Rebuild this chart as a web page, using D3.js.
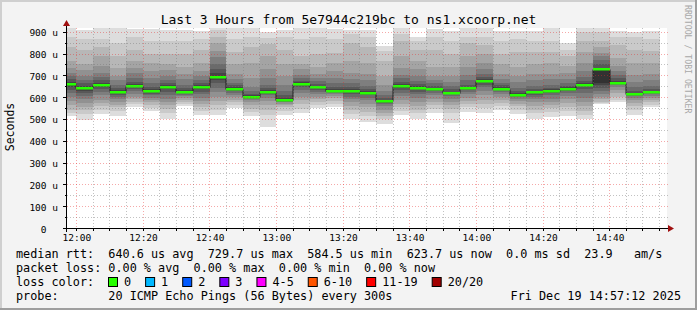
<!DOCTYPE html>
<html><head><meta charset="utf-8">
<script src="https://cdn.jsdelivr.net/npm/d3@7"></script>
<style>
html,body{margin:0;padding:0;background:#f3f3f3;}
svg{display:block;}
text{font-family:"DejaVu Sans Mono",monospace;}
</style></head><body>
<svg id="c" width="697" height="310"></svg>
<script>
const title = "Last 3 Hours from 5e7944c219bc to ns1.xcoorp.net";
const timeStart = "11:57:12", timeEnd = "14:57:12";
const barStarts = ["11:55","12:00","12:05","12:10","12:15","12:20","12:25","12:30","12:35","12:40","12:45","12:50",
  "12:55","13:00","13:05","13:10","13:15","13:20","13:25","13:30","13:35","13:40","13:45","13:50",
  "13:55","14:00","14:05","14:10","14:15","14:20","14:25","14:30","14:35","14:40","14:45","14:50"];
const medians = [662,643,657,627,653,631,648,627,648,695,640,604,627,590,663,648,631,631,622,584.5,
  653,643,639,622,642,676,640,614,624,631,640,659,729.7,668,618,623.7];
const lossPct = [0,0,0,0,0,0,0,0,0,0,0,0,0,0,0,0,0,0,0,0,0,0,0,0,0,0,0,0,0,0,0,0,0,0,0,0];
const pings = [
 [515,530,545,565,585,605,620,635,648,658,666,672,685,700,715,735,770,830,880,940],
 [497,525,542,558,575,592,607,620,632,640,646,655,665,680,700,725,754,820,870,910],
 [524,545,560,575,590,610,625,638,648,654,660,668,680,695,715,745,790,830,870,935],
 [515,540,555,565,580,595,605,613,620,625,630,637,645,660,680,700,735,790,850,920],
 [555,570,580,592,605,618,630,640,647,651,655,662,672,690,712,735,770,820,880,915],
 [538,552,565,578,590,600,610,618,625,629,633,640,650,665,690,720,760,800,860,915],
 [500,530,548,565,580,595,610,625,638,645,651,658,668,682,700,725,754,800,860,910],
 [560,570,580,590,600,608,614,619,623,626,629,635,645,660,685,710,740,800,860,910],
 [521,540,555,570,585,600,615,628,640,646,650,656,665,680,700,720,760,820,870,905],
 [520,545,565,585,605,625,645,665,680,690,700,712,730,755,785,815,850,880,910,940],
 [551,565,578,590,602,613,622,630,636,639,642,648,656,668,685,710,754,810,870,918],
 [515,535,550,565,578,588,595,599,602,603,606,610,618,630,650,690,760,830,880,935],
 [466,520,545,565,585,600,610,617,622,626,629,635,645,660,690,730,790,845,875,902],
 [521,540,555,565,572,578,582,586,588,589,592,598,610,630,660,700,754,820,880,910],
 [530,550,570,590,605,620,635,648,657,661,665,670,678,690,705,730,754,790,870,935],
 [551,568,580,592,605,618,628,636,643,646,650,655,663,675,690,710,740,800,880,925],
 [558,572,585,597,608,616,622,627,629,630,633,638,648,665,690,720,760,805,870,915],
 [500,525,545,562,578,592,605,615,625,629,633,640,650,665,685,715,770,850,890,910],
 [489,515,535,555,572,588,600,610,617,620,624,630,640,655,680,710,760,830,880,912],
 [478,500,515,530,545,560,570,577,581,583,586,590,598,610,630,660,700,770,815,838],
 [520,540,555,572,590,608,622,635,646,651,655,662,672,688,705,735,790,860,890,920],
 [500,528,545,560,580,598,615,628,638,641,645,652,662,678,700,730,770,820,860,880],
 [530,550,565,580,595,610,622,630,636,638,641,646,654,665,680,700,740,820,880,915],
 [484,530,548,565,580,595,607,615,620,621,623,628,638,652,672,700,740,800,860,905],
 [535,555,570,585,600,615,628,636,640,641,643,650,660,680,705,740,790,850,880,918],
 [530,552,570,590,610,630,648,660,670,674,678,685,695,710,730,760,800,840,880,930],
 [542,560,575,590,605,618,628,634,638,639,642,648,656,668,685,710,755,800,860,905],
 [524,545,560,572,585,595,603,608,612,613,615,620,630,645,670,700,740,810,870,905],
 [500,528,545,562,578,592,604,614,620,623,626,632,640,655,680,710,754,810,860,905],
 [512,535,552,568,582,596,610,620,627,630,633,638,645,660,685,710,760,810,860,925],
 [515,540,558,575,592,608,620,630,637,639,642,648,655,665,685,712,745,790,820,851],
 [500,520,540,560,580,600,620,638,652,657,661,668,678,695,720,760,810,860,900,940],
 [570,576,582,592,605,618,630,645,660,666,728,738,752,772,790,805,830,860,900,940],
 [579,590,605,620,635,648,657,663,666,667,669,675,688,705,720,745,780,840,880,905],
 [520,545,560,575,588,600,608,613,616,617,619,623,632,648,670,705,760,820,880,900],
 [555,568,580,590,600,608,615,619,622,623,625,630,640,655,680,710,760,815,870,905]
];
const xTickLabels = ["12:00","12:20","12:40","13:00","13:20","13:40","14:00","14:20","14:40"];
const yTickValues = [0,100,200,300,400,500,600,700,800,900];
const yTickLabels = ["0  ","100 u","200 u","300 u","400 u","500 u","600 u","700 u","800 u","900 u"];
const yMinorValues = [50,150,250,350,450,550,650,750,850];
const smokeShades = ["#dddddd","#cacaca","#b7b7b7","#a4a4a4","#919191","#7e7e7e","#6b6b6b","#585858","#454545","#323232"];
const lossLabels = ["0","1","2","3","4-5","6-10","11-19","20/20"];
const lossColors = ["#26ff00","#00b8ff","#0059ff","#7e00ff","#ff00ff","#ff5500","#ff0000","#a10000"];
const rttStats = ["640.6 us avg","729.7 us max","584.5 us min","623.7 us now","0.0 ms sd","23.9   am/s"];
const lossStats = ["0.00 % avg","0.00 % max","0.00 % min","0.00 % now"];
const probeText = "20 ICMP Echo Pings (56 Bytes) every 300s";
const stampText = "Fri Dec 19 14:57:12 2025";

const svg = d3.select("#c");
const W = 697, H = 310;
const parseT = d3.timeParse("%Y-%m-%d %H:%M:%S");
const T = s => parseT("2025-12-19 " + (s.length === 5 ? s + ":00" : s));
const L = 67, R = 667, TOP = 28.5, BOT = 228.5;

const x = d3.scaleTime().domain([T(timeStart), T(timeEnd)]).range([L, R]);
const y = d3.scaleLinear().domain([0, 917]).range([BOT, TOP]);
const px = v => Math.floor(v) + 0.5;

// background & frame
svg.append("rect").attr("width", W).attr("height", H).attr("fill", "#f3f3f3");
svg.append("rect").attr("x", 0).attr("y", 0).attr("width", W).attr("height", 2).attr("fill", "#cfcfcf");
svg.append("rect").attr("x", 0).attr("y", 0).attr("width", 2).attr("height", H).attr("fill", "#cfcfcf");
svg.append("rect").attr("x", 0).attr("y", H - 2).attr("width", W).attr("height", 2).attr("fill", "#9e9e9e");
svg.append("rect").attr("x", W - 2).attr("y", 0).attr("width", 2).attr("height", H).attr("fill", "#9e9e9e");

// canvas
svg.append("rect").attr("x", L).attr("y", 28).attr("width", R - L).attr("height", 201).attr("fill", "#ffffff");
svg.append("clipPath").attr("id", "cp").append("rect").attr("x", L).attr("y", 28).attr("width", R - L).attr("height", 200.5);
const g = svg.append("g").attr("clip-path", "url(#cp)");

// smoke
const step = 5 * 60 * 1000;
barStarts.forEach((s, i) => {
  const t0 = T(s), t1 = new Date(+t0 + step);
  const x0 = Math.round(x(t0)), x1 = Math.round(x(t1));
  const p = pings[i];
  for (let k = 0; k < 10; k++) {
    const lo = p[k], hi = p[19 - k];
    const y0 = Math.round(y(hi)), y1 = Math.round(y(lo));
    g.append("rect").attr("x", x0).attr("y", y0).attr("width", x1 - x0).attr("height", Math.max(0, y1 - y0))
      .attr("fill", smokeShades[k]);
  }
});

// median step line
const pts = barStarts.map((s, i) => [x(T(s)), y(medians[i])]);
pts.push([x(new Date(+T(barStarts[barStarts.length - 1]) + step)), y(medians[medians.length - 1])]);
g.append("path").attr("d", d3.line().curve(d3.curveStepAfter)(pts.map(d => [Math.round(d[0]), Math.round(d[1]) + 0.5])))
  .attr("fill", "none").attr("stroke", "#202020").attr("stroke-width", 1);
barStarts.forEach((s, i) => {
  const t0 = T(s), t1 = new Date(+t0 + step);
  const x0 = Math.round(x(t0)), x1 = Math.round(x(t1));
  const ym = Math.round(y(medians[i]));
  g.append("rect").attr("x", x0).attr("y", ym - 1).attr("width", x1 - x0).attr("height", 2.5)
    .attr("fill", lossColors[lossPct[i]]);
});

// grid (drawn over)
const minorT = d3.timeMinute.every(5).range(T(timeStart), T(timeEnd));
const majorT = d3.timeMinute.every(20).range(T(timeStart), T(timeEnd));
const grid = svg.append("g");
minorT.forEach(t => {
  if (t.getMinutes() % 20 === 0) return;
  grid.append("line").attr("x1", px(x(t))).attr("x2", px(x(t))).attr("y1", 28).attr("y2", 228)
    .attr("stroke", "rgba(120,120,120,0.45)").attr("stroke-dasharray", "1,2");
});
yMinorValues.forEach(v => {
  grid.append("line").attr("x1", L).attr("x2", R + 1).attr("y1", px(y(v))).attr("y2", px(y(v)))
    .attr("stroke", "rgba(120,120,120,0.45)").attr("stroke-dasharray", "1,2");
});
majorT.forEach(t => {
  grid.append("line").attr("x1", px(x(t))).attr("x2", px(x(t))).attr("y1", 28).attr("y2", 228)
    .attr("stroke", "rgba(230,40,40,0.4)").attr("stroke-dasharray", "1,2");
});
yTickValues.slice(1).forEach(v => {
  grid.append("line").attr("x1", L).attr("x2", R + 1).attr("y1", px(y(v))).attr("y2", px(y(v)))
    .attr("stroke", "rgba(230,40,40,0.4)").attr("stroke-dasharray", "1,2");
});

// axes
const ax = svg.append("g");
ax.append("line").attr("x1", 63).attr("x2", 670).attr("y1", BOT).attr("y2", BOT).attr("stroke", "#000");
ax.append("line").attr("x1", 66.5).attr("x2", 66.5).attr("y1", 232).attr("y2", 25).attr("stroke", "#000");
ax.append("path").attr("d", "M668,225 L674,228.5 L668,232 Z").attr("fill", "#a01010");
ax.append("path").attr("d", "M63,26 L66.5,20 L70,26 Z").attr("fill", "#a01010");
minorT.forEach(t => {
  ax.append("line").attr("x1", px(x(t))).attr("x2", px(x(t))).attr("y1", 228).attr("y2", 231).attr("stroke", "#000");
});
yTickValues.forEach(v => {
  ax.append("line").attr("x1", 63).attr("x2", 67).attr("y1", px(y(v))).attr("y2", px(y(v))).attr("stroke", "#000");
});
yMinorValues.forEach(v => {
  ax.append("line").attr("x1", 65).attr("x2", 67).attr("y1", px(y(v))).attr("y2", px(y(v))).attr("stroke", "#000");
});

// axis labels
const xAxis = d3.axisBottom(x).tickValues(xTickLabels.map(T)).tickFormat(d3.timeFormat("%H:%M")).tickSize(0);
const xg = svg.append("g").attr("transform", `translate(0,${BOT})`).call(xAxis);
xg.select(".domain").remove();
xg.selectAll("text").attr("font-family", "DejaVu Sans Mono").attr("font-size", "9.5px").attr("fill", "#000")
  .attr("dy", null).attr("y", 12.5);

yTickValues.forEach((v, i) => {
  svg.append("text").attr("x", 58).attr("y", Math.round(y(v)) + 3.5).attr("text-anchor", "end")
    .attr("font-size", "9.5px").style("white-space", "pre").text(yTickLabels[i]);
});

// title
svg.append("text").attr("x", 348.5).attr("y", 24).attr("text-anchor", "middle").attr("font-size", "13px").text(title);
// y title
svg.append("text").attr("transform", "translate(14,127) rotate(-90)").attr("text-anchor", "middle")
  .attr("font-size", "11.5px").text("Seconds");
// watermark
svg.append("text").attr("transform", "translate(685,5) rotate(90)").attr("font-size", "8.2px")
  .attr("fill", "#a8a8a8").text("RRDTOOL / TOBI OETIKER");

// legend
const LF = "11.8px";
const leg = (xx, yy, s) => svg.append("text").attr("x", xx).attr("y", yy).attr("font-size", LF).style("white-space", "pre").text(s);
leg(16, 258, "median rtt:  " + rttStats.join("  "));
leg(16, 272, "packet loss: " + lossStats.join("  "));
leg(16, 286, "loss color:");
let bx = 108;
lossLabels.forEach((lab, i) => {
  svg.append("rect").attr("x", bx + 0.5).attr("y", 277.5).attr("width", 9).attr("height", 9)
    .attr("fill", lossColors[i]).attr("stroke", "#000");
  const t = leg(bx + 16, 286, lab);
  bx = bx + 16 + t.node().getComputedTextLength() + 14;
});
leg(16, 300, "probe:       " + probeText);
svg.append("text").attr("x", 681).attr("y", 300).attr("text-anchor", "end").attr("font-size", LF).text(stampText);
</script>
</body></html>
